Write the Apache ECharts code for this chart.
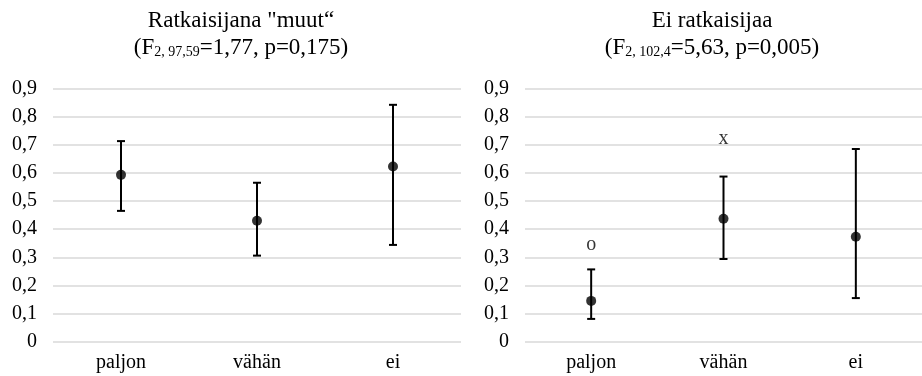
<!DOCTYPE html>
<html>
<head>
<meta charset="utf-8">
<script src="https://cdn.jsdelivr.net/npm/echarts@6/dist/echarts.min.js"></script>
<style>html,body{margin:0;padding:0;background:#fff}#c{width:922px;height:376px}</style>
</head>
<body>
<div id="c"></div>
<script>
var categories = ['paljon', 'vähän', 'ei'];
var yTicks = [0, 0.1, 0.2, 0.3, 0.4, 0.5, 0.6, 0.7, 0.8, 0.9];

var leftMean = [0.593, 0.430, 0.623];
var leftLow  = [0.465, 0.306, 0.344];
var leftHigh = [0.713, 0.565, 0.842];

var rightMean = [0.145, 0.437, 0.373];
var rightLow  = [0.081, 0.294, 0.155];
var rightHigh = [0.257, 0.587, 0.685];
var rightMarks = ['o', 'x', ''];
var rightMarkY = [0.345, 0.72, null];

var FONT = 'Liberation Serif';

var chart = echarts.init(document.getElementById('c'), null, {renderer: 'canvas'});

function errData(low, high) {
  return categories.map(function (c, i) { return [i, low[i], high[i]]; });
}

function renderErr(params, api) {
  var lo = api.coord([api.value(0), api.value(1)]);
  var hi = api.coord([api.value(0), api.value(2)]);
  var hw = 4;
  var st = {stroke: '#000', lineWidth: 2};
  return {
    type: 'group',
    children: [
      {type: 'line', shape: {x1: lo[0], y1: lo[1], x2: hi[0], y2: hi[1]}, style: st},
      {type: 'line', shape: {x1: lo[0] - hw, y1: lo[1], x2: lo[0] + hw, y2: lo[1]}, style: st},
      {type: 'line', shape: {x1: hi[0] - hw, y1: hi[1], x2: hi[0] + hw, y2: hi[1]}, style: st}
    ]
  };
}

function xAxis(gi) {
  return {
    type: 'category', gridIndex: gi, data: categories,
    axisLine: {show: false}, axisTick: {show: false},
    axisLabel: {fontFamily: FONT, fontSize: 20, color: '#000', margin: 11}
  };
}
function yAxis(gi) {
  return {
    type: 'value', gridIndex: gi, min: 0, max: 0.9, interval: 0.1,
    axisLine: {show: false}, axisTick: {show: false},
    splitLine: {lineStyle: {color: '#d9d9d9', width: 1.5}},
    axisLabel: {
      fontFamily: FONT, fontSize: 20, color: '#000', margin: 16,
      formatter: function (v) {
        var t = yTicks.filter(function (k) { return Math.abs(k - v) < 1e-9; })[0];
        if (t === undefined) t = v;
        return t === 0 ? '0' : t.toFixed(1).replace('.', ',');
      }
    }
  };
}

var subRich = {
  a: {fontFamily: FONT, fontSize: 23, lineHeight: 26, fill: '#000', verticalAlign: 'bottom'},
  s: {fontFamily: FONT, fontSize: 14, lineHeight: 14, fill: '#000', verticalAlign: 'bottom'}
};

var option = {
  animation: false,
  backgroundColor: '#fff',
  grid: [
    {left: 53, top: 88.5, width: 408, bottom: 34.3},
    {left: 525, top: 88.5, width: 409, bottom: 34.3}
  ],
  xAxis: [xAxis(0), xAxis(1)],
  yAxis: [yAxis(0), yAxis(1)],
  graphic: [
    {type: 'text', x: 241, y: 21, style: {text: 'Ratkaisijana "muut“', fontFamily: FONT, fontSize: 23, fill: '#000', align: 'center', verticalAlign: 'middle'}},
    {type: 'text', x: 241, y: 46, style: {text: '{a|(F}{s|2, 97,59}{a|=1,77, p=0,175)}', rich: subRich, align: 'center', verticalAlign: 'middle'}},
    {type: 'text', x: 712, y: 21, style: {text: 'Ei ratkaisijaa', fontFamily: FONT, fontSize: 23, fill: '#000', align: 'center', verticalAlign: 'middle'}},
    {type: 'text', x: 712, y: 46, style: {text: '{a|(F}{s|2, 102,4}{a|=5,63, p=0,005)}', rich: subRich, align: 'center', verticalAlign: 'middle'}}
  ],
  series: [
    {type: 'custom', xAxisIndex: 0, yAxisIndex: 0, renderItem: renderErr, data: errData(leftLow, leftHigh), z: 2},
    {type: 'scatter', xAxisIndex: 0, yAxisIndex: 0, data: leftMean, symbol: 'circle', symbolSize: 10, itemStyle: {color: '#000'}, z: 3},
    {type: 'custom', xAxisIndex: 1, yAxisIndex: 1, renderItem: renderErr, data: errData(rightLow, rightHigh), z: 2},
    {type: 'scatter', xAxisIndex: 1, yAxisIndex: 1, data: rightMean, symbol: 'circle', symbolSize: 10, itemStyle: {color: '#000'}, z: 3},
    {type: 'scatter', xAxisIndex: 1, yAxisIndex: 1, symbolSize: 0, silent: true,
      data: rightMarkY.map(function (v, i) { return v === null ? null : {value: [i, v], name: rightMarks[i]}; }).filter(function (d) { return d; }),
      label: {show: true, position: 'inside', formatter: function (p) { return p.name; }, fontFamily: FONT, fontSize: 20, color: '#000'}
    }
  ]
};
chart.setOption(option);
</script>
</body>
</html>
